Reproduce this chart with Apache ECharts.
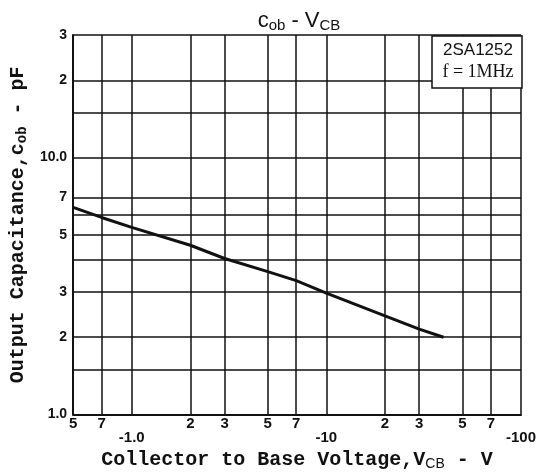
<!DOCTYPE html>
<html>
<head>
<meta charset="utf-8">
<script src="https://cdn.jsdelivr.net/npm/echarts@6/dist/echarts.min.js"></script>
<style>
  html, body { margin: 0; background: #fff; }
  #cob-chart { width: 544px; height: 476px; }
</style>
</head>
<body>
<div id="cob-chart"></div>
<script>
// |VCB| in volts (the axis is printed with a minus sign), Cob in pF
const vcbAbs = [0.5, 0.7, 1, 2, 3, 5, 7, 10, 20, 30, 40];
const cob = [6.4, 5.85, 5.35, 4.56, 4.05, 3.6, 3.32, 2.97, 2.42, 2.15, 2.0];

const xTicks = [0.5, 0.7, 1, 2, 3, 5, 7, 10, 20, 30, 50, 70, 100];
const yTicks = [1, 1.5, 2, 3, 4, 5, 6, 7, 10, 15, 20, 30];
const yLabelVals = [1, 2, 3, 5, 7, 10, 20, 30];

const fmtX = (v) => {
    const e = Math.floor(Math.log10(v) + 1e-9);
    const d = Math.round(v / Math.pow(10, e));
    if (d === 1) return '\n' + (v === 1 ? '-1.0' : '-' + Math.round(v));
    return String(d);
};
const fmtY = (v) => {
    if (v === 1) return '1.0';
    if (v === 10) return '10.0';
    const e = Math.floor(Math.log10(v) + 1e-9);
    return String(Math.round(v / Math.pow(10, e)));
};

const chart = echarts.init(document.getElementById('cob-chart'));
const grid = '#111';

chart.setOption({
    animation: false,
    backgroundColor: '#fff',
    title: {
        text: '{a|c}{s|ob}{a| - V}{s|CB}',
        left: 294,
        textAlign: 'center',
        top: 3,
        textStyle: {
            rich: {
                a: { fontFamily: 'Liberation Sans', fontWeight: 'normal', fontSize: 22, color: '#111' },
                s: { fontFamily: 'Liberation Sans', fontWeight: 'normal', fontSize: 15, color: '#111', padding: [10, 0, 0, 0] }
            }
        }
    },
    grid: { left: 66, right: 23, top: 35, bottom: 58 },
    xAxis: {
        type: 'log',
        logBase: 10,
        min: 0.5,
        max: 100,
        name: '{t|Collector to Base Voltage,V}{s|CB}{t| - V}',
        nameLocation: 'middle',
        nameGap: 32,
        nameTextStyle: {
            rich: {
                t: { fontFamily: 'Liberation Mono', fontWeight: 'bold', fontSize: 20, color: '#111' },
                s: { fontFamily: 'Liberation Sans', fontSize: 14, color: '#111', padding: [8, 0, 0, 0] }
            }
        },
        axisLine: { lineStyle: { color: grid, width: 2 } },
        axisTick: { show: false, customValues: xTicks },
        axisLabel: {
            customValues: xTicks,
            formatter: fmtX,
            margin: 2,
            fontFamily: 'Liberation Sans',
            fontWeight: 'bold',
            fontSize: 15,
            lineHeight: 14,
            color: '#111'
        },
        splitLine: { show: true, lineStyle: { color: grid, width: 1.5 } }
    },
    yAxis: {
        type: 'log',
        logBase: 10,
        min: 1,
        max: 30,
        name: '{t|Output Capacitance,c}{s|ob}{t| - pF}',
        nameLocation: 'middle',
        nameRotate: 90,
        nameGap: 42,
        nameTextStyle: {
            rich: {
                t: { fontFamily: 'Liberation Mono', fontWeight: 'bold', fontSize: 20, color: '#111' },
                s: { fontFamily: 'Liberation Mono', fontWeight: 'bold', fontSize: 14, color: '#111', padding: [8, 0, 0, 0] }
            }
        },
        axisLine: { show: true, lineStyle: { color: grid, width: 2 } },
        axisTick: { show: false, customValues: yTicks },
        axisLabel: {
            customValues: yLabelVals,
            formatter: fmtY,
            margin: 6,
            fontFamily: 'Liberation Sans',
            fontWeight: 'bold',
            fontSize: 14,
            color: '#111'
        },
        splitLine: { show: true, lineStyle: { color: grid, width: 1.5 } }
    },
    graphic: [
        {
            type: 'rect',
            shape: { x: 432, y: 36, width: 90, height: 52 },
            style: { fill: '#fff', stroke: '#111', lineWidth: 1.5 },
            z: 10
        },
        {
            type: 'text',
            x: 478, y: 42,
            style: { text: '2SA1252', fontFamily: 'Liberation Sans', fontSize: 17, fill: '#111', align: 'center' },
            z: 11
        },
        {
            type: 'text',
            x: 478, y: 63,
            style: { text: 'f = 1MHz', fontFamily: 'Liberation Serif', fontSize: 18, fill: '#111', align: 'center' },
            z: 11
        }
    ],
    series: [
        {
            type: 'line',
            data: vcbAbs.map((v, i) => [v, cob[i]]),
            showSymbol: false,
            smooth: false,
            lineStyle: { color: '#111', width: 3 },
            z: 5
        }
    ]
});
</script>
</body>
</html>
